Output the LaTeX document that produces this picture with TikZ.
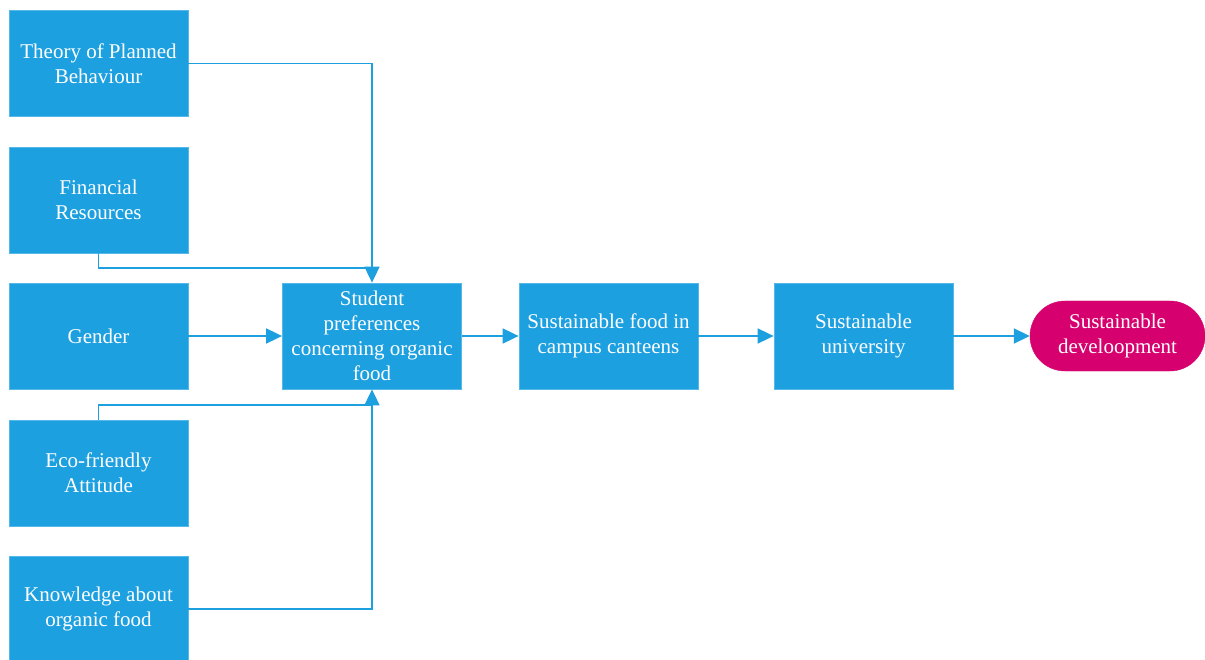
\documentclass[tikz,border=0pt]{standalone}
\usepackage{fontspec}
\setmainfont{Liberation Serif}
\usetikzlibrary{arrows.meta}
\definecolor{boxblue}{RGB}{29,160,224}
\definecolor{pinkc}{RGB}{214,0,110}
\begin{document}
\begin{tikzpicture}[x=1pt,y=-1pt,
 box/.style={fill=boxblue, draw=boxblue!75!white, line width=0.8pt, minimum width=179pt, minimum height=106pt, inner sep=0pt, text=white, align=center, font=\fontsize{21}{25}\selectfont},
 pill/.style={fill=pinkc, draw=pinkc, rounded corners=35pt, minimum width=175pt, minimum height=70pt, inner sep=0pt, text=white, align=center, font=\fontsize{21}{25}\selectfont},
 conn/.style={draw=boxblue, line width=1.8pt, -{Triangle[length=16pt,width=15pt]}},
 plain/.style={draw=boxblue, line width=1.8pt}]
\useasboundingbox (0,0) rectangle (1205,660);
\node[box] (tpb) at (98.5,63.5) {Theory of Planned\\Behaviour};
\node[box] (fin) at (98.5,200) {Financial\\Resources};
\node[box] (gen) at (98.5,336) {Gender};
\node[box] (eco) at (98.5,473) {Eco-friendly\\Attitude};
\node[box] (kno) at (98.5,609) {Knowledge about\\organic food};
\node[box] (stu) at (372,336) {Student\\preferences\\concerning organic\\food};
\node[box] (food) at (608.5,336) {Sustainable food in\\campus canteens};
\node[box] (uni) at (863.5,336) {Sustainable\\university};
\node[pill] (dev) at (1117.5,336) {Sustainable\\develoopment};
\coordinate (j1) at (372,268);
\coordinate (j2) at (372,405);
\draw[conn] (tpb.east) -| (stu.north);
\draw[plain] (fin.south) |- (j1);
\draw[conn] (gen) -- (stu);
\draw[plain] (eco.north) |- (j2);
\draw[conn] (kno.east) -| (stu.south);
\draw[conn] (stu) -- (food);
\draw[conn] (food) -- (uni);
\draw[conn] (uni) -- (dev);
\end{tikzpicture}
\end{document}
